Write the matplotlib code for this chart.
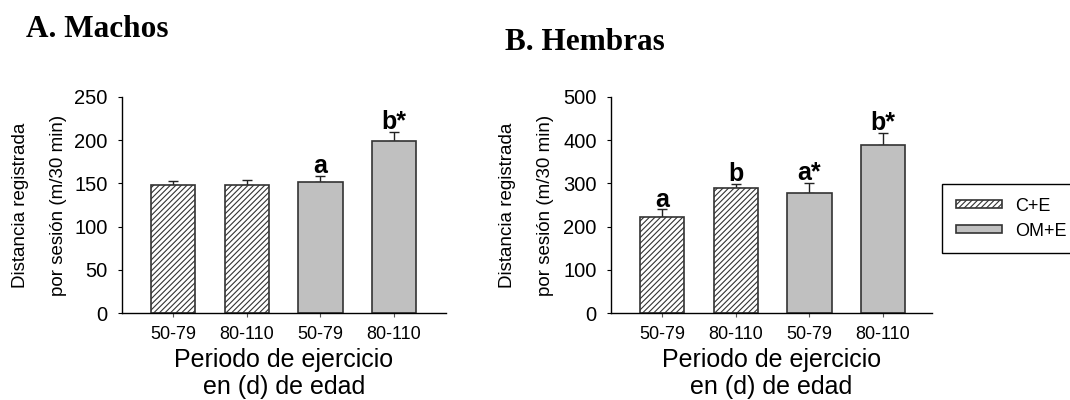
import matplotlib
matplotlib.use("Agg")
import matplotlib.pyplot as plt
import numpy as np

# datos
periodos = ["50-79", "80-110", "50-79", "80-110"]
grupos = ["C+E", "C+E", "OM+E", "OM+E"]

machos_media = [148, 148, 152, 199]
machos_err = [5, 6, 7, 10]
machos_letras = ["", "", "a", "b*"]

hembras_media = [222, 289, 278, 389]
hembras_err = [18, 10, 23, 27]
hembras_letras = ["a", "b", "a*", "b*"]

plt.rcParams["font.family"] = ["Liberation Sans", "DejaVu Sans"]
plt.rcParams["hatch.linewidth"] = 0.8

estilo = {
    "C+E": dict(facecolor="white", hatch="//////"),
    "OM+E": dict(facecolor="#c0c0c0", hatch=None),
}


def panel(ax, media, err, letras, ymax, paso, xlim_der):
    x = np.arange(len(media))
    barras = []
    for i in range(len(media)):
        b = ax.bar(x[i], media[i], width=0.6, edgecolor="#333333", linewidth=1.2,
                   label=grupos[i], zorder=2, **estilo[grupos[i]])
        barras.append(b)
    ax.errorbar(x, media, yerr=[np.zeros(len(err)), err], fmt="none",
                ecolor="#222222", elinewidth=1.0, capsize=3.5, capthick=1.0, zorder=1)
    for i in range(len(media)):
        if letras[i]:
            ax.annotate(letras[i], (x[i], media[i] + err[i]), xytext=(0, 2),
                        textcoords="offset points", ha="center", va="baseline",
                        fontsize=18, fontweight="bold")
    ax.set_ylim(0, ymax)
    ax.set_yticks(np.arange(0, ymax + 1, paso))
    ax.set_xlim(-0.70, xlim_der)
    ax.set_xticks(x)
    ax.set_xticklabels(periodos)
    for s in ["top", "right"]:
        ax.spines[s].set_visible(False)
    for s in ["left", "bottom"]:
        ax.spines[s].set_linewidth(1.0)
    ax.tick_params(axis="x", length=3, width=0.8, pad=6, labelsize=13, color="#555555")
    ax.tick_params(axis="y", length=3, width=0.8, pad=7, labelsize=14.5)
    ax.set_xlabel("Periodo de ejercicio\nen (d) de edad", fontsize=18, linespacing=1.12,
                  labelpad=4)
    ax.set_ylabel("Distancia registrada\npor sesión (m/30 min)", fontsize=13.5,
                  linespacing=2.6, va="center")
    return barras


fig = plt.figure(figsize=(10.7, 4), dpi=100)
ax1 = fig.add_axes([0.1137, 0.2168, 0.3028, 0.5415])
ax2 = fig.add_axes([0.5707, 0.2168, 0.3000, 0.5415])

panel(ax1, machos_media, machos_err, machos_letras, 250, 50, 3.70)
barras = panel(ax2, hembras_media, hembras_err, hembras_letras, 500, 100, 3.66)
ax1.yaxis.set_label_coords(-0.254, 0.5)
ax2.yaxis.set_label_coords(-0.262, 0.5)

fig.text(26 / 1070, 1 - 37.3 / 400, "A. Machos", family="Liberation Serif",
         fontweight="bold", fontsize=22.5, va="baseline")
fig.text(505 / 1070, 1 - 50 / 400, "B. Hembras", family="Liberation Serif",
         fontweight="bold", fontsize=22.5, va="baseline")

leg = fig.legend([barras[0], barras[2]], ["C+E", "OM+E"], loc="upper left",
                 bbox_to_anchor=(942 / 1070, 1 - 184 / 400), fontsize=13,
                 handlelength=2.6, handleheight=0.35, handletextpad=0.7,
                 labelspacing=0.45, borderpad=0.75, borderaxespad=0,
                 fancybox=False, framealpha=1, edgecolor="black")
leg.get_frame().set_linewidth(1.0)

fig.savefig("out.png", dpi=100)
